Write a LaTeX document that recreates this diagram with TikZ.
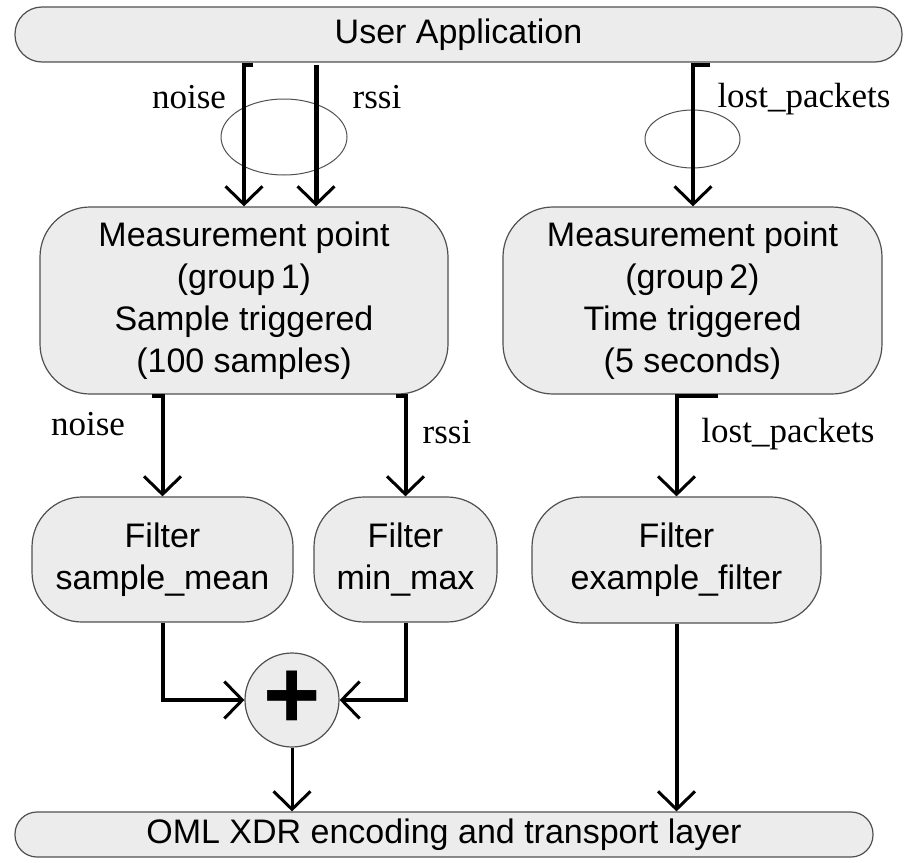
\documentclass[tikz,border=0pt]{standalone}
\usepackage{fontspec}
\setmainfont{Liberation Serif}
\setsansfont{Liberation Sans}
\usetikzlibrary{arrows.meta,calc}
\definecolor{boxfill}{RGB}{236,236,236}
\definecolor{boxline}{RGB}{80,80,80}
\begin{document}
\begin{tikzpicture}[x=1pt,y=-1pt,
  box/.style={draw=boxline,line width=1.2pt,fill=boxfill,rounded corners=#1,inner sep=0pt,
    align=center,font=\sffamily\fontsize{34}{42}\selectfont},
  box/.default=50pt,
  arr/.style={line width=4pt,-{Straight Barb[length=18pt,width=37pt,line width=3pt]}},
  seg/.style={line width=4pt},
  lbl/.style={font=\rmfamily\fontsize{35}{40}\selectfont,anchor=base,inner sep=0pt},
  ell/.style={draw=boxline,line width=1pt}]
\useasboundingbox (0,0) rectangle (910,862);

% nodes
\node[box=27pt,minimum width=887pt,minimum height=55pt] (ua) at (458.5,34.5) {User Application};
\node[box,minimum width=408pt,minimum height=187pt] (mp1) at (244,300.5)
  {Measurement point\\(group\,1)\\Sample triggered\\(100 samples)};
\node[box,minimum width=379pt,minimum height=187pt] (mp2) at (692.5,300.5)
  {Measurement point\\(group\,2)\\Time triggered\\(5 seconds)};
\node[box,minimum width=261pt,minimum height=125pt] (f1) at (162.5,559.5) {Filter\\sample\_mean};
\node[box,minimum width=183pt,minimum height=125pt] (f2) at (405.5,559.5) {Filter\\min\_max};
\node[box,minimum width=289pt,minimum height=126pt] (f3) at (676.5,560) {Filter\\example\_filter};
\node[circle,draw=boxline,line width=1.2pt,fill=boxfill,minimum size=94pt,inner sep=0pt,
  font=\sffamily\bfseries\fontsize{98}{98}\selectfont] (plus) at (292,700) {+};
\node[box=22pt,minimum width=858pt,minimum height=45pt] (oml) at (444,834.5)
  {OML XDR encoding and transport layer};

% x positions of connectors
\coordinate (xn) at (244,0);
\coordinate (xr) at (316,0);
\coordinate (xl) at (693,0);

% ellipses
\draw[ell] (284,137) ellipse [x radius=63pt,y radius=38pt];
\draw[ell] (692.5,139) ellipse [x radius=47.5pt,y radius=29pt];

% arrows from user application
\draw[arr] ($(ua.south -| xn)+(9,2)$) -- ($(ua.south -| xn)+(0,2)$) -- (mp1.north -| xn);
\draw[arr,line width=5pt] ($(ua.south -| xr)+(0,2)$) -- (mp1.north -| xr);
\draw[arr] ($(ua.south -| xl)+(17,2)$) -- ($(ua.south -| xl)+(0,2)$) -- (mp2.north -| xl);

% arrows from measurement points to filters
\draw[arr] ($(mp1.south -| f1.north)+(-11,1)$) -- ($(mp1.south -| f1.north)+(0,1)$) -- (f1.north);
\draw[arr] ($(mp1.south -| f2.north)+(-10,1)$) -- ($(mp1.south -| f2.north)+(0,1)$) -- (f2.north);
\draw[arr] ($(mp2.south -| f3.north)+(41,1)$) -- ($(mp2.south -| f3.north)+(0,1)$) -- (f3.north);

% filters to plus
\draw[arr] (f1.south) |- (plus.west);
\draw[arr] (f2.south) |- (plus.east);
\draw[arr,line width=3pt] (plus.south) -- (oml.north -| plus.south);
\draw[arr] (f3.south) -- (oml.north -| f3.south);

% labels
\node[lbl] (l1) at (189,108) {noise};
\node[lbl] (l2) at (377,108) {rssi};
\node[lbl] (l3) at (804,107) {lost\_packets};
\node[lbl] (l4) at (88,435) {noise};
\node[lbl] (l5) at (447,443) {rssi};
\node[lbl] (l6) at (788,442) {lost\_packets};
\end{tikzpicture}
\end{document}
